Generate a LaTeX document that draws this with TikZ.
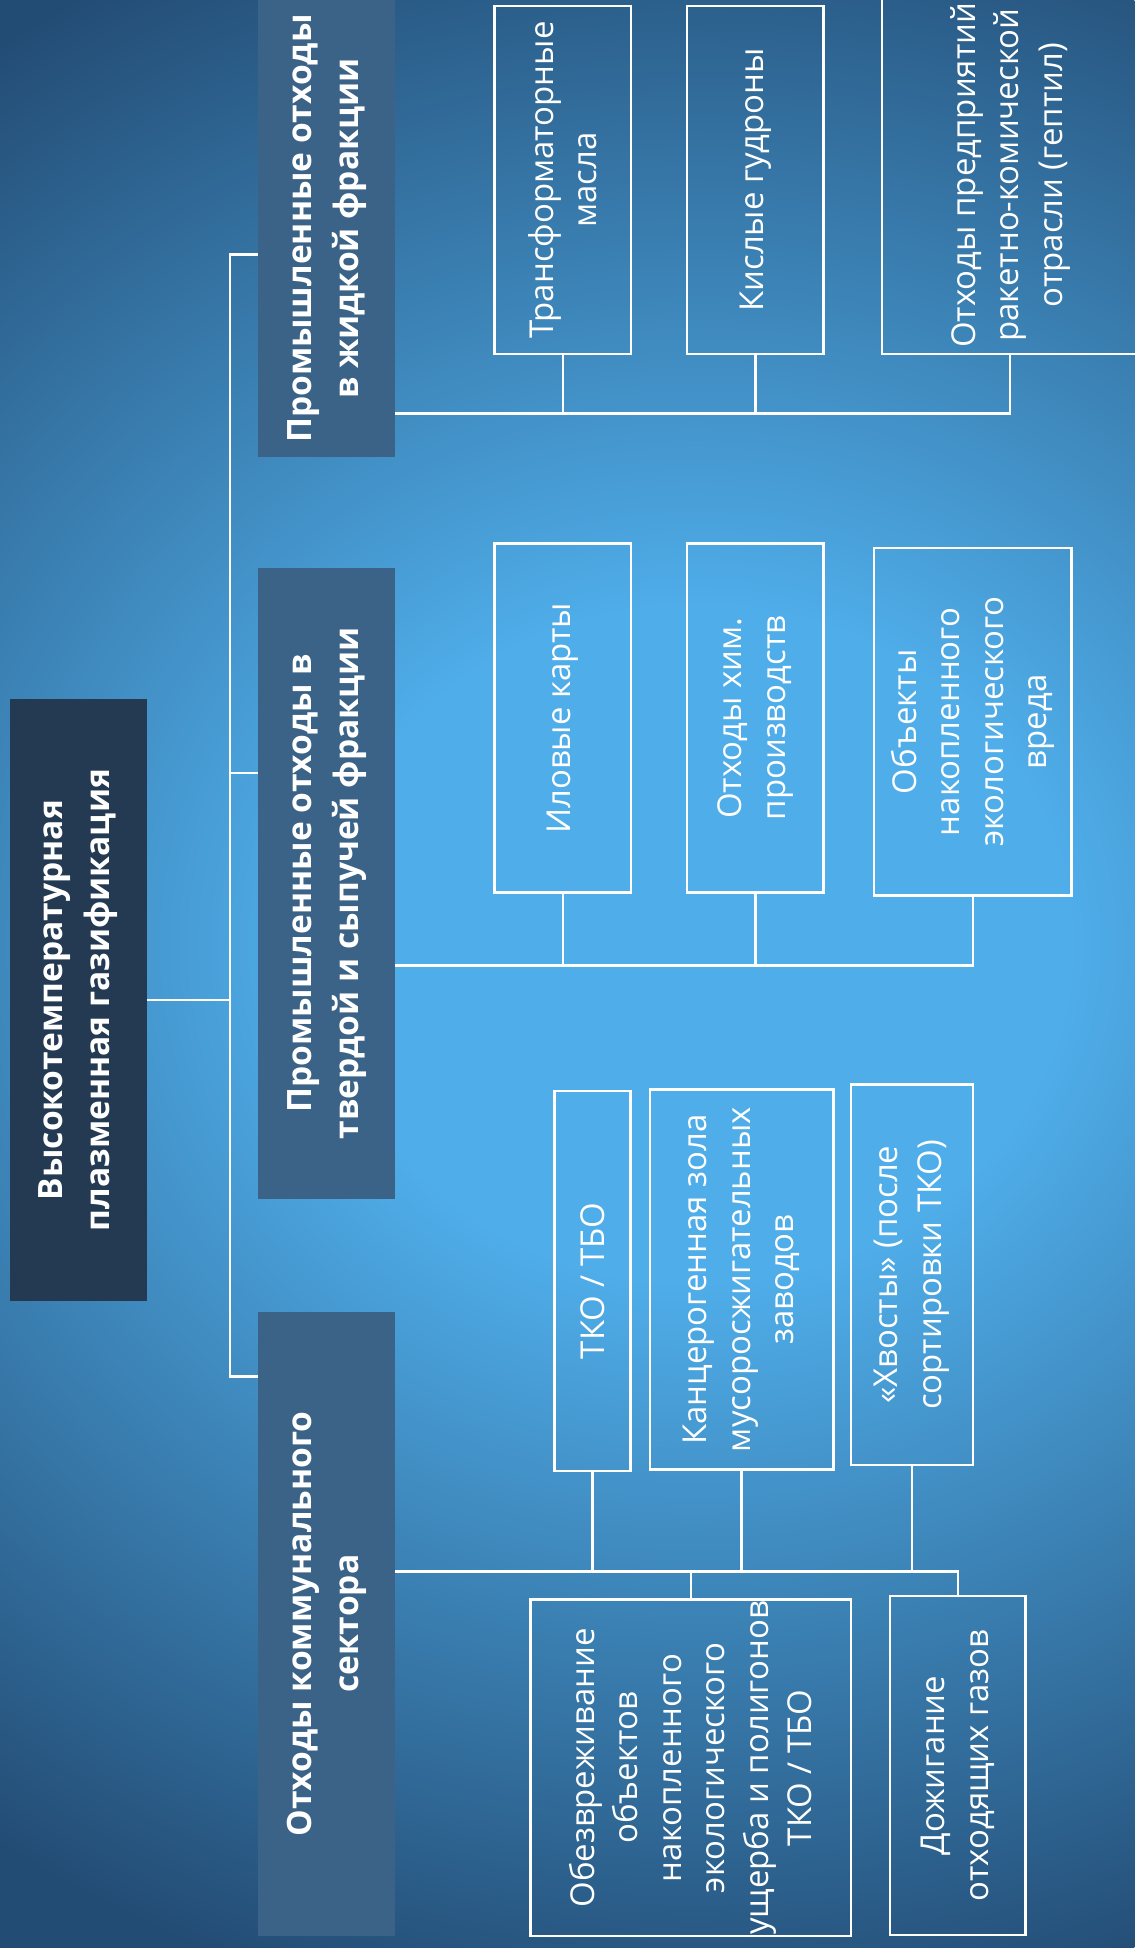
\documentclass[tikz,border=0pt]{standalone}
\usepackage{fontspec}
\setmainfont{Open Sans}

\definecolor{bglight}{HTML}{4FADE9}
\definecolor{bgdark}{HTML}{234C74}
\definecolor{headfill}{HTML}{3A6387}
\definecolor{rootfill}{HTML}{233A52}
\pgfdeclareradialshading{bgglow}{\pgfpoint{0bp}{0bp}}{color(0bp)=(bglight); color(8bp)=(bglight); color(26bp)=(bgdark); color(50bp)=(bgdark)}

\begin{document}
\begin{tikzpicture}[x=1pt,y=-1pt,
    link/.style={draw=white,line width=2pt},
    headbox/.style={fill=headfill,text=white,rotate=90,align=center,inner sep=2pt,
        font=\bfseries\fontsize{27}{38}\selectfont},
    leafbox/.style={draw=white,line width=2pt,text=white,rotate=90,align=center,inner sep=1pt,
        font=\fontsize{26.5}{35}\selectfont}]
    \useasboundingbox (0,0) rectangle (913,1568);
    \begin{scope}
        \clip (0,0) rectangle (913,1568);
        \shade[shading=bgglow] (-380,-90) rectangle (1500,1610);
    \end{scope}

    % root and the three groups
    \node[headbox,fill=rootfill,minimum width=484pt,minimum height=110pt] (root) at (63,805) {Высокотемпературная\\плазменная газификация};
    \node[headbox,minimum width=368pt,minimum height=110pt] (liq) at (263,184) {Промышленные отходы\\в жидкой фракции};
    \node[headbox,minimum width=508pt,minimum height=110pt] (sol) at (263,711) {Промышленные отходы в\\твердой и сыпучей фракции};
    \node[headbox,minimum width=502pt,minimum height=110pt] (com) at (263,1307) {Отходы коммунального\\сектора};

    % liquid
    \node[leafbox,minimum width=280pt,minimum height=110pt] (c11) at (453,145) {Трансформаторные\\масла};
    \node[leafbox,minimum width=280pt,minimum height=110pt] (c12) at (608,145) {Кислые гудроны};
    \node[leafbox,minimum width=288pt,minimum height=206pt] (c13) at (813,141) {Отходы предприятий\\ракетно-комической\\отрасли (гептил)};

    % solid
    \node[leafbox,minimum width=281pt,minimum height=110pt] (c21) at (453,578) {Иловые карты};
    \node[leafbox,minimum width=281pt,minimum height=110pt] (c22) at (608,578) {Отходы хим.\\производств};
    \node[leafbox,minimum width=280pt,minimum height=159pt] (c23) at (783,581) {Объекты\\накопленного\\экологического\\вреда};

    % communal
    \node[leafbox,minimum width=306pt,minimum height=61pt] (c31) at (477,1031) {ТКО / ТБО};
    \node[leafbox,minimum width=306pt,minimum height=148pt] (c32) at (597,1030) {Канцерогенная зола\\мусоросжигательных\\заводов};
    \node[leafbox,minimum width=306pt,minimum height=98pt] (c33) at (734,1026) {«Хвосты» (после\\сортировки ТКО)};
    \node[leafbox,minimum width=270pt,minimum height=258pt] (c34) at (556,1423) {Обезвреживание\\объектов\\накопленного\\экологического\\ущерба и полигонов\\ТКО / ТБО};
    \node[leafbox,minimum width=273pt,minimum height=109pt] (c35) at (771,1421) {Дожигание\\отходящих газов};

    % connectors
    \coordinate (trunk) at (185,805);
    \coordinate (tliq) at (185,205);
    \coordinate (tsol) at (185,622);
    \coordinate (tcom) at (185,1108);
    \draw[link] (root.south) -- (trunk);
    \draw[link] (tliq -| liq.north) -- (tliq) -- (tcom) -- (tcom -| com.north);
    \draw[link] (tsol) -- (tsol -| sol.north);

    \coordinate (busliq) at (0,333);
    \coordinate (bussol) at (0,777);
    \coordinate (buscom) at (0,1265);
    \draw[link] (busliq -| liq.south) -| (c13.west);
    \foreach \n in {c11,c12} \draw[link] (\n.west) -- (\n.west |- busliq);
    \draw[link] (bussol -| sol.south) -| (c23.west);
    \foreach \n in {c21,c22} \draw[link] (\n.west) -- (\n.west |- bussol);
    \draw[link] (buscom -| com.south) -| (c35.east);
    \foreach \n in {c31,c32,c33} \draw[link] (\n.west) -- (\n.west |- buscom);
    \draw[link] (c34.east) -- (c34.east |- buscom);
\end{tikzpicture}
\end{document}
